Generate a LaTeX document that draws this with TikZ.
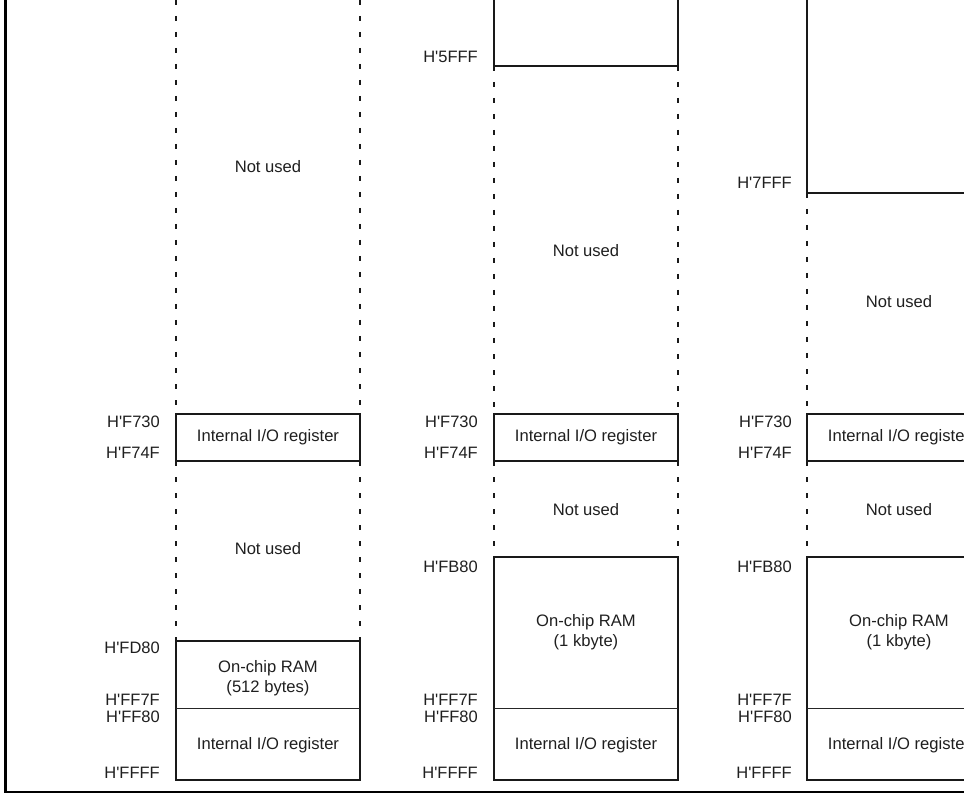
\documentclass[tikz,border=0pt]{standalone}
\usepackage{fontspec}
\setmainfont{Liberation Sans}
\newcommand{\hx}[1]{H\textquotesingle#1}
\begin{document}
\begin{tikzpicture}[x=1pt,y=-1pt,
  solidedge/.style={line width=2.2pt, draw=black!90},
  dotedge/.style={line width=2.6pt, draw=black!90, dash pattern=on 5pt off 11pt},
  divider/.style={line width=1pt, draw=black!85},
  frameline/.style={line width=2.6pt},
  addr/.style={anchor=east, inner sep=0pt, text=black!88, font=\fontsize{16.5}{19}\selectfont},
  area/.style={inner sep=0pt, align=center, text=black!88, font=\fontsize{16.6}{19.5}\selectfont}]
\useasboundingbox (0,0) rectangle (964,802);
\clip (0,0) rectangle (964,802);

% outer frame (left and bottom edges)
\draw[frameline] (5.5,-5) -- (5.5,792) -- (970,792);

% ---------- memory map 1 ----------
\draw[dotedge] (176,0) -- (176,414) (360,0) -- (360,414);
\draw[solidedge] (176,414) rectangle (360,461);
\draw[dotedge] (176,461) -- (176,641) (360,461) -- (360,641);
\draw[solidedge] (176,641) rectangle (360,780);
\draw[divider] (176,708) -- (360,708);

\node[area] (a1) at (268,167) {Not used};
\node[area] (a2) at (268,437) {Internal I/O register};
\node[area] (a3) at (268,549) {Not used};
\node[area] (a4) at (268,678) {On-chip RAM\\(512 bytes)};
\node[area] (a5) at (268,745) {Internal I/O register};

\node[addr] (a6) at (160,422) {\hx{F730}};
\node[addr] (a7) at (160,453) {\hx{F74F}};
\node[addr] (a8) at (160,648) {\hx{FD80}};
\node[addr] (a9) at (160,700) {\hx{FF7F}};
\node[addr] (a10) at (160,717) {\hx{FF80}};
\node[addr] (a11) at (160,773) {\hx{FFFF}};

% ---------- memory map 2 ----------
\draw[solidedge] (494,-5) -- (494,66) -- (678,66) -- (678,-5);
\draw[dotedge] (494,66) -- (494,414) (678,66) -- (678,414);
\draw[solidedge] (494,414) rectangle (678,461);
\draw[dotedge] (494,461) -- (494,557) (678,461) -- (678,557);
\draw[solidedge] (494,557) rectangle (678,780);
\draw[divider] (494,708) -- (678,708);

\node[area] (b1) at (586,251) {Not used};
\node[area] (b2) at (586,437) {Internal I/O register};
\node[area] (b3) at (586,510) {Not used};
\node[area] (b4) at (586,632) {On-chip RAM\\(1 kbyte)};
\node[area] (b5) at (586,745) {Internal I/O register};

\node[addr] (b6) at (478,57) {\hx{5FFF}};
\node[addr] (b7) at (478,422) {\hx{F730}};
\node[addr] (b8) at (478,453) {\hx{F74F}};
\node[addr] (b9) at (478,567) {\hx{FB80}};
\node[addr] (b10) at (478,700) {\hx{FF7F}};
\node[addr] (b11) at (478,717) {\hx{FF80}};
\node[addr] (b12) at (478,773) {\hx{FFFF}};

% ---------- memory map 3 (runs past the right edge) ----------
\draw[solidedge] (807,-5) -- (807,193) -- (991,193) -- (991,-5);
\draw[dotedge] (807,193) -- (807,414);
\draw[solidedge] (807,414) rectangle (991,461);
\draw[dotedge] (807,461) -- (807,557);
\draw[solidedge] (807,557) rectangle (991,780);
\draw[divider] (807,708) -- (991,708);

\node[area] (c1) at (899,302) {Not used};
\node[area] (c2) at (899,437) {Internal I/O register};
\node[area] (c3) at (899,510) {Not used};
\node[area] (c4) at (899,632) {On-chip RAM\\(1 kbyte)};
\node[area] (c5) at (899,745) {Internal I/O register};

\node[addr] (c6) at (792,183) {\hx{7FFF}};
\node[addr] (c7) at (792,422) {\hx{F730}};
\node[addr] (c8) at (792,453) {\hx{F74F}};
\node[addr] (c9) at (792,567) {\hx{FB80}};
\node[addr] (c10) at (792,700) {\hx{FF7F}};
\node[addr] (c11) at (792,717) {\hx{FF80}};
\node[addr] (c12) at (792,773) {\hx{FFFF}};
\end{tikzpicture}
\end{document}
